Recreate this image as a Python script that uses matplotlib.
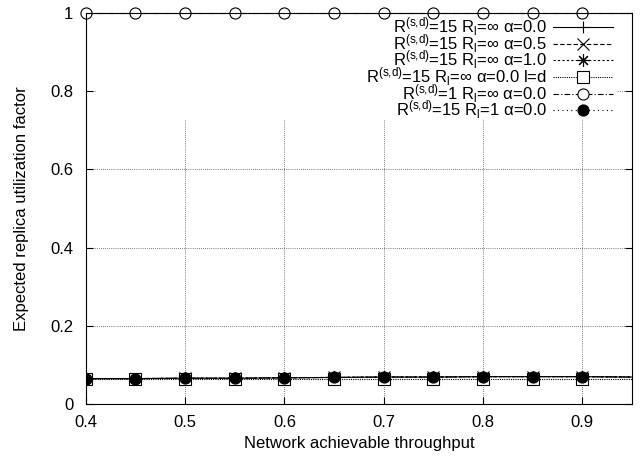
import matplotlib
matplotlib.use('Agg')
import matplotlib.pyplot as plt
from matplotlib.patches import Rectangle

plt.rcParams['font.family'] = ['Liberation Sans', 'DejaVu Sans']
plt.rcParams['mathtext.fontset'] = 'custom'
plt.rcParams['mathtext.rm'] = 'Liberation Sans'
plt.rcParams['mathtext.it'] = 'Liberation Sans'

# throughput values (last point only carries the line to the border)
x = [0.4, 0.45, 0.5, 0.55, 0.6, 0.65, 0.7, 0.75, 0.8, 0.85, 0.9, 0.95]

r15_a00 = [0.065, 0.065, 0.066, 0.066, 0.067, 0.068, 0.069, 0.069, 0.070, 0.070, 0.070, 0.069]
r15_a05 = [0.065, 0.065, 0.066, 0.066, 0.067, 0.068, 0.069, 0.069, 0.070, 0.070, 0.070, 0.069]
r15_a10 = [0.065, 0.065, 0.066, 0.066, 0.067, 0.068, 0.069, 0.069, 0.070, 0.070, 0.070, 0.069]
r15_ld = [0.065, 0.065, 0.065, 0.065, 0.065, 0.065, 0.065, 0.065, 0.065, 0.065, 0.065, 0.065]
r1_a00 = [1.0, 1.0, 1.0, 1.0, 1.0, 1.0, 1.0, 1.0, 1.0, 1.0, 1.0, 1.0]
r15_rl1 = [0.065, 0.065, 0.066, 0.066, 0.067, 0.068, 0.069, 0.069, 0.070, 0.070, 0.070, 0.069]

labels = [
    r'R$^{\mathrm{(s{,}d)}}$=15 R$_{\mathrm{l}}$=∞ α=0.0',
    r'R$^{\mathrm{(s{,}d)}}$=15 R$_{\mathrm{l}}$=∞ α=0.5',
    r'R$^{\mathrm{(s{,}d)}}$=15 R$_{\mathrm{l}}$=∞ α=1.0',
    r'R$^{\mathrm{(s{,}d)}}$=15 R$_{\mathrm{l}}$=∞ α=0.0 l=d',
    r'R$^{\mathrm{(s{,}d)}}$=1 R$_{\mathrm{l}}$=∞ α=0.0',
    r'R$^{\mathrm{(s{,}d)}}$=15 R$_{\mathrm{l}}$=1 α=0.0',
]

xticks = [0.4, 0.5, 0.6, 0.7, 0.8, 0.9]
yticks = [0, 0.2, 0.4, 0.6, 0.8, 1]
ytick_labels = ['0', '0.2', '0.4', '0.6', '0.8', '1']

fig = plt.figure(figsize=(6.4, 4.62), dpi=100)
ax = fig.add_axes([0.134, 0.1255, 0.8535, 0.8465])

mk = slice(0, 11)
lw = 0.8
ax.plot(x, r15_a00, color='black', lw=lw, ls='-', marker='+', ms=9, mew=0.8,
        markevery=mk, label=labels[0])
ax.plot(x, r15_a05, color='black', lw=lw, ls=(0, (4, 2)), marker='x', ms=8, mew=0.8,
        markevery=mk, label=labels[1])
ax.plot(x, r15_a10, color='black', lw=lw, ls=(0, (2, 2)), marker=(8, 2, 0), ms=9, mew=0.8,
        markevery=mk, label=labels[2])
ax.plot(x, r15_ld, color='black', lw=lw, ls=(0, (1, 1)), marker='s', ms=8, mew=0.8,
        mfc='white', markevery=mk, label=labels[3])
ax.plot(x, r1_a00, color='black', lw=lw, ls=(0, (5, 2, 1, 2)), marker='o', ms=8, mew=0.8,
        mfc='white', markevery=mk, label=labels[4], clip_on=False)
ax.plot(x, r15_rl1, color='black', lw=lw, ls=(0, (1, 3)), marker='o', ms=8, mew=0.8,
        mfc='black', markevery=mk, label=labels[5])

ax.set_xlim(0.4, 0.95)
ax.set_ylim(0, 1)
ax.set_xticks(xticks)
ax.set_yticks(yticks)
ax.set_yticklabels(ytick_labels)
ax.tick_params(direction='in', length=5, width=0.8, top=True, right=True,
               labelsize=12)
ax.tick_params(axis='x', pad=8)
ax.tick_params(axis='y', pad=9)
ax.set_axisbelow(True)
ax.grid(True, color='black', ls=(0, (1, 2)), lw=0.5)

# key area blanks out the grid behind it
ax.add_patch(Rectangle((0.41, 0.73), 0.525, 0.27, facecolor='white',
                       edgecolor='none', zorder=0.6))

for s in ax.spines.values():
    s.set_linewidth(0.8)

ax.set_xlabel('Network achievable throughput', fontsize=12, labelpad=4)
ax.set_ylabel('Expected replica utilization factor', fontsize=12, labelpad=15)

ax.legend(loc='upper right', bbox_to_anchor=(0.965, 0.993), frameon=False,
          markerfirst=False, fontsize=12, handlelength=3.6, handletextpad=0.35,
          labelspacing=-0.36, borderpad=0, borderaxespad=0)

fig.savefig('out.png', dpi=100)
